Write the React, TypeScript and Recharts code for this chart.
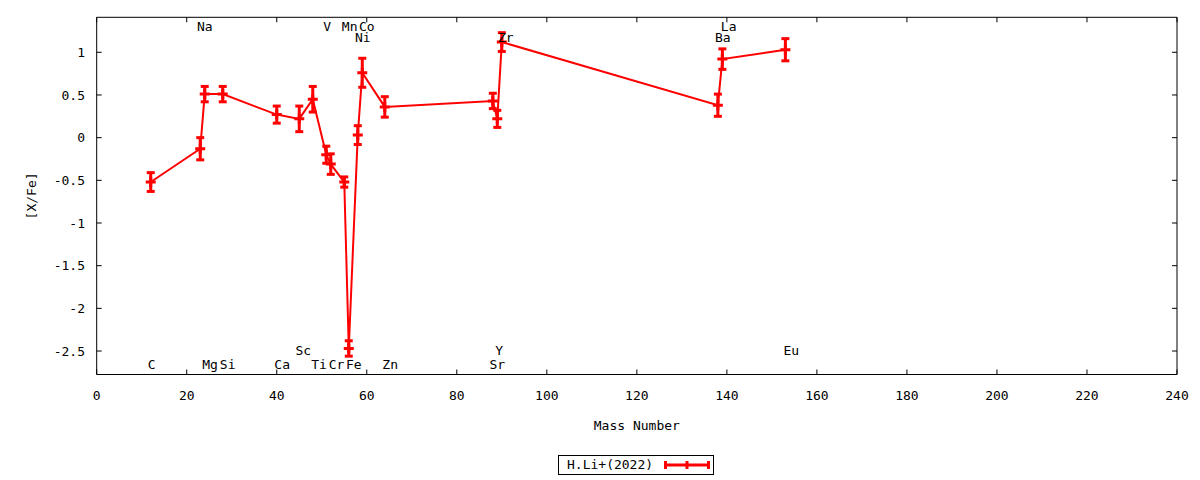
import React from 'react';
import { ComposedChart, Line, Scatter, XAxis, YAxis, ErrorBar } from 'recharts';

// Mass number of each element (x) and measured [X/Fe] (y) with its error
const massNumbers = [12, 23, 24, 28, 40, 45, 48, 51, 52, 55, 56, 58, 59, 64, 88, 89, 90, 138, 139, 153];
const abundances = [-0.52, -0.13, 0.51, 0.51, 0.27, 0.22, 0.45, -0.2, -0.31, -0.52, -2.47, 0.03, 0.76, 0.36, 0.43, 0.22, 1.12, 0.38, 0.92, 1.03];
const abundanceErrors = [0.11, 0.13, 0.09, 0.09, 0.1, 0.15, 0.15, 0.1, 0.12, 0.06, 0.09, 0.11, 0.17, 0.12, 0.09, 0.1, 0.11, 0.13, 0.12, 0.13];

// Element name labels, placed in data coordinates
const elementNames = ['C', 'Na', 'Mg', 'Si', 'Ca', 'Sc', 'Ti', 'V', 'Cr', 'Mn', 'Fe', 'Ni', 'Co', 'Zn', 'Sr', 'Y', 'Zr', 'Ba', 'La', 'Eu'];
const labelMass = [12.2, 24.0, 25.2, 29.1, 41.2, 45.9, 49.4, 51.2, 53.3, 56.2, 57.1, 59.1, 60.0, 65.2, 89.0, 89.4, 90.9, 139.1, 140.4, 154.3];
const labelRatio = [-2.66, 1.3, -2.66, -2.66, -2.66, -2.49, -2.66, 1.3, -2.66, 1.3, -2.66, 1.17, 1.3, -2.66, -2.66, -2.49, 1.17, 1.17, 1.3, -2.49];

const xTicks = [0, 20, 40, 60, 80, 100, 120, 140, 160, 180, 200, 220, 240];
const yTicks = [-2.5, -2, -1.5, -1, -0.5, 0, 0.5, 1];
const xDomain = [0, 240];
const yDomain = [-2.775, 1.41];

const seriesName = 'H.Li+(2022)';

const seriesData = massNumbers.map((x, i) => ({ x, y: abundances[i], err: abundanceErrors[i] }));
const labelData = elementNames.map((name, i) => ({ x: labelMass[i], y: labelRatio[i], name }));

const FONT = "'DejaVu Sans Mono', monospace";
const RED = '#ff0000';
const tickStyle = { fill: '#000', fontFamily: FONT, fontSize: 13 };
const lineStyle = { stroke: '#000', strokeWidth: 1 };

const PlusDot = (props: any) => {
  const { cx, cy, index } = props;
  if (cx == null || cy == null) return <g key={`d${index}`} />;
  return (
    <g key={`d${index}`}>
      <line x1={cx - 5} x2={cx + 5} y1={cy} y2={cy} stroke={RED} strokeWidth={3} />
      <line x1={cx} x2={cx} y1={cy - 5} y2={cy + 5} stroke={RED} strokeWidth={3} />
    </g>
  );
};

const ElementLabel = (props: any) => {
  const { cx, cy, payload } = props;
  if (cx == null || cy == null) return <g />;
  return (
    <text x={cx} y={cy} textAnchor="middle" dominantBaseline="central" fontFamily={FONT} fontSize={13} fill="#000">
      {payload.name}
    </text>
  );
};

const xLabel = (props: any) => {
  const vb = props.viewBox || {};
  return (
    <text x={vb.x + vb.width / 2} y={vb.y + 50.5} textAnchor="middle" dominantBaseline="central" fontFamily={FONT} fontSize={13} fill="#000">
      Mass Number
    </text>
  );
};

const yLabel = (props: any) => {
  const vb = props.viewBox || {};
  const cx = vb.x + 24;
  const cy = vb.y + vb.height / 2;
  return (
    <text x={cx} y={cy} transform={`rotate(-90, ${cx}, ${cy})`} textAnchor="middle" dominantBaseline="central" fontFamily={FONT} fontSize={13} fill="#000">
      [X/Fe]
    </text>
  );
};

const blank = () => '';

export default function App() {
  return (
    <div style={{ position: 'relative', width: 1192, height: 470, fontFamily: FONT }}>
      <ComposedChart width={1192} height={464} data={seriesData} margin={{ top: 8.3, right: 22, bottom: 0, left: 0 }}>
        <XAxis
          xAxisId="b"
          dataKey="x"
          type="number"
          domain={xDomain}
          ticks={xTicks}
          interval={0}
          allowDataOverflow
          orientation="bottom"
          height={97.5}
          tickSize={-5}
          tickMargin={21}
          axisLine={lineStyle}
          tickLine={lineStyle}
          tick={tickStyle}
          label={xLabel}
        />
        <XAxis
          xAxisId="t"
          dataKey="x"
          type="number"
          domain={xDomain}
          ticks={xTicks}
          interval={0}
          allowDataOverflow
          orientation="top"
          height={1}
          tickSize={-5}
          tickFormatter={blank}
          axisLine={lineStyle}
          tickLine={lineStyle}
          tick={tickStyle}
        />
        <YAxis
          yAxisId="l"
          dataKey="y"
          type="number"
          domain={yDomain}
          ticks={yTicks}
          interval={0}
          allowDataOverflow
          orientation="left"
          width={88.7}
          tickSize={-5}
          tickMargin={16.7}
          axisLine={lineStyle}
          tickLine={lineStyle}
          tick={tickStyle}
          label={yLabel}
        />
        <YAxis
          yAxisId="r"
          dataKey="y"
          type="number"
          domain={yDomain}
          ticks={yTicks}
          interval={0}
          allowDataOverflow
          orientation="right"
          width={1}
          tickSize={-5}
          tickFormatter={blank}
          axisLine={lineStyle}
          tickLine={lineStyle}
          tick={tickStyle}
        />
        <Line
          xAxisId="b"
          yAxisId="l"
          type="linear"
          dataKey="y"
          name={seriesName}
          stroke={RED}
          strokeWidth={2}
          dot={PlusDot}
          activeDot={false}
          isAnimationActive={false}
        >
          <ErrorBar dataKey="err" direction="y" width={4} stroke={RED} strokeWidth={3} isAnimationActive={false} />
        </Line>
        <Scatter
          xAxisId="t"
          yAxisId="r"
          data={labelData}
          dataKey="y"
          shape={ElementLabel}
          isAnimationActive={false}
        />
      </ComposedChart>
      <div
        style={{
          position: 'absolute',
          left: 550,
          top: 447,
          width: 154,
          height: 18,
          border: '1px solid #000',
          background: '#fff',
          fontFamily: FONT,
          fontSize: 13,
          color: '#000',
        }}
      >
        <span style={{ position: 'absolute', left: 8, top: 0, lineHeight: '18px', whiteSpace: 'nowrap' }}>{seriesName}</span>
        <svg style={{ position: 'absolute', left: 105, top: 0 }} width={46} height={18}>
          <line x1={1.5} x2={44.5} y1={9} y2={9} stroke={RED} strokeWidth={3} />
          <line x1={1.5} x2={1.5} y1={5} y2={13} stroke={RED} strokeWidth={3} />
          <line x1={44.5} x2={44.5} y1={5} y2={13} stroke={RED} strokeWidth={3} />
          <line x1={23} x2={23} y1={5} y2={13} stroke={RED} strokeWidth={3} />
        </svg>
      </div>
    </div>
  );
}
